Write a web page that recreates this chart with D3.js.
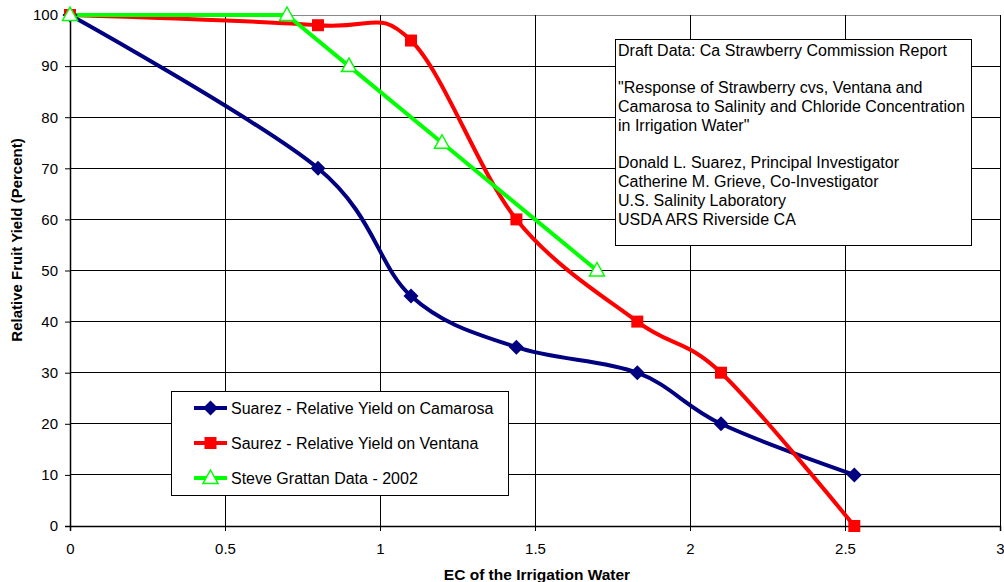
<!DOCTYPE html>
<html>
<head>
<meta charset="utf-8">
<script src="https://cdn.jsdelivr.net/npm/d3@7"></script>
<style>
  html, body { margin: 0; padding: 0; background: #fff; }
  svg { display: block; font-family: Arial, "Liberation Sans", sans-serif; }
</style>
</head>
<body>
<svg id="chart" width="1004" height="582"></svg>
<script>
// Relative fruit yield of strawberry cultivars vs. EC of irrigation water
const camarosaEC    = [0, 0.8, 1.1, 1.44, 1.83, 2.1, 2.53];
const camarosaYield = [100, 70, 45, 35, 30, 20, 10];
const ventanaEC     = [0, 0.8, 1.1, 1.44, 1.83, 2.1, 2.53];
const ventanaYield  = [100, 98, 95, 60, 40, 30, 0];
const grattanEC     = [0, 0.7, 0.9, 1.2, 1.7];
const grattanYield  = [100, 100, 90, 75, 50];

const xTicks = [0, 0.5, 1, 1.5, 2, 2.5, 3];
const yTicks = [0, 10, 20, 30, 40, 50, 60, 70, 80, 90, 100];

const seriesNames = [
  "Suarez - Relative Yield on Camarosa",
  "Saurez - Relative Yield on Ventana",
  "Steve Grattan Data - 2002"
];

const noteLines = [
  "Draft Data: Ca Strawberry Commission Report",
  "",
  "\"Response of Strawberry cvs, Ventana and",
  "Camarosa to Salinity and Chloride Concentration",
  "in Irrigation Water\"",
  "",
  "Donald L. Suarez, Principal Investigator",
  "Catherine M. Grieve, Co-Investigator",
  "U.S. Salinity Laboratory",
  "USDA ARS Riverside CA"
];

const svg = d3.select("#chart");
const plot = { left: 70, right: 1000, top: 15, bottom: 526 };

const x = d3.scaleLinear().domain([0, 3]).range([plot.left, plot.right]);
const y = d3.scaleLinear().domain([0, 100]).range([plot.bottom, plot.top]);

// gridlines
const grid = svg.append("g");
grid.selectAll("line.h").data(yTicks.filter(d => d > 0)).join("line")
  .attr("x1", plot.left).attr("x2", plot.right)
  .attr("y1", d => y(d)).attr("y2", d => y(d))
  .attr("stroke", d => d === 100 ? "#888" : "#000").attr("stroke-width", 1)
  .attr("shape-rendering", "crispEdges");
grid.selectAll("line.v").data(xTicks.filter(d => d > 0)).join("line")
  .attr("y1", plot.top).attr("y2", plot.bottom)
  .attr("x1", d => x(d)).attr("x2", d => x(d))
  .attr("stroke", "#000").attr("stroke-width", 1)
  .attr("shape-rendering", "crispEdges");

// axes
const xAxis = svg.append("g")
  .attr("transform", `translate(0,${plot.bottom})`)
  .call(d3.axisBottom(x).tickValues(xTicks).tickSize(5).tickPadding(12).tickFormat(d3.format("")));
const yAxis = svg.append("g")
  .attr("transform", `translate(${plot.left},0)`)
  .call(d3.axisLeft(y).tickValues(yTicks).tickSize(5).tickPadding(7));
[xAxis, yAxis].forEach(a => {
  a.select(".domain").attr("stroke", "#000").attr("stroke-width", 1.5);
  a.selectAll(".tick line").attr("stroke", "#000");
  a.selectAll(".tick text").attr("fill", "#000")
    .style("font-family", "Arial, 'Liberation Sans', sans-serif").style("font-size", "15px");
});

// axis titles
svg.append("text")
  .attr("x", 537).attr("y", 580)
  .attr("text-anchor", "middle")
  .style("font-weight", "bold").style("font-size", "15.5px")
  .text("EC of the Irrigation Water");
svg.append("text")
  .attr("transform", "translate(22,240) rotate(-90)")
  .attr("text-anchor", "middle")
  .style("font-weight", "bold").style("font-size", "15px")
  .text("Relative Fruit Yield (Percent)");

// series
const series = [
  { name: seriesNames[0], xs: camarosaEC, ys: camarosaYield, color: "#000080", marker: "diamond", smooth: true },
  { name: seriesNames[1], xs: ventanaEC,  ys: ventanaYield,  color: "#ff0000", marker: "square",  smooth: true },
  { name: seriesNames[2], xs: grattanEC,  ys: grattanYield,  color: "#00ff00", marker: "triangle", smooth: false }
];

function markerPath(kind) {
  if (kind === "diamond") return "M0,-7.5L7.5,0L0,7.5L-7.5,0Z";
  if (kind === "square") return "M-6,-6H6V6H-6Z";
  return "M0,-8L7.5,5.5L-7.5,5.5Z";
}
function styleMarker(sel, s) {
  if (s.marker === "triangle") {
    sel.attr("fill", "#fff").attr("stroke", s.color).attr("stroke-width", 1.5);
  } else {
    sel.attr("fill", s.color).attr("stroke", "none");
  }
}

series.forEach(s => {
  const pts = s.xs.map((v, i) => [v, s.ys[i]]);
  const line = d3.line()
    .x(d => x(d[0])).y(d => y(d[1]))
    .curve(s.smooth ? d3.curveCardinal.tension(0) : d3.curveLinear);
  svg.append("path").datum(pts)
    .attr("d", line)
    .attr("fill", "none").attr("stroke", s.color).attr("stroke-width", 4)
    .attr("stroke-linejoin", "round");
  s.pts = pts;
});
series.forEach(s => {
  svg.append("g").selectAll("path").data(s.pts).join("path")
    .attr("transform", d => `translate(${x(d[0])},${y(d[1])})`)
    .attr("d", markerPath(s.marker))
    .call(sel => styleMarker(sel, s));
});

// legend
const legend = svg.append("g");
legend.append("rect")
  .attr("x", 171.5).attr("y", 391.5).attr("width", 337).attr("height", 104)
  .attr("fill", "#fff").attr("stroke", "#000").attr("stroke-width", 1);
series.forEach((s, i) => {
  const cy = 408 + i * 35;
  legend.append("line")
    .attr("x1", 194).attr("x2", 227).attr("y1", cy).attr("y2", cy)
    .attr("stroke", s.color).attr("stroke-width", 4);
  legend.append("path")
    .attr("transform", `translate(210.5,${cy})`)
    .attr("d", markerPath(s.marker))
    .call(sel => styleMarker(sel, s));
  legend.append("text")
    .attr("x", 231).attr("y", cy + 5.5)
    .style("font-size", "16px")
    .text(s.name);
});

// note box
const note = svg.append("g");
note.append("rect")
  .attr("x", 615.5).attr("y", 39.5).attr("width", 356).attr("height", 206)
  .attr("fill", "#fff").attr("stroke", "#000").attr("stroke-width", 1);
note.selectAll("text").data(noteLines).join("text")
  .attr("x", 618).attr("y", (d, i) => 55.5 + i * 18.8)
  .style("font-size", "16px")
  .text(d => d);
</script>
</body>
</html>
